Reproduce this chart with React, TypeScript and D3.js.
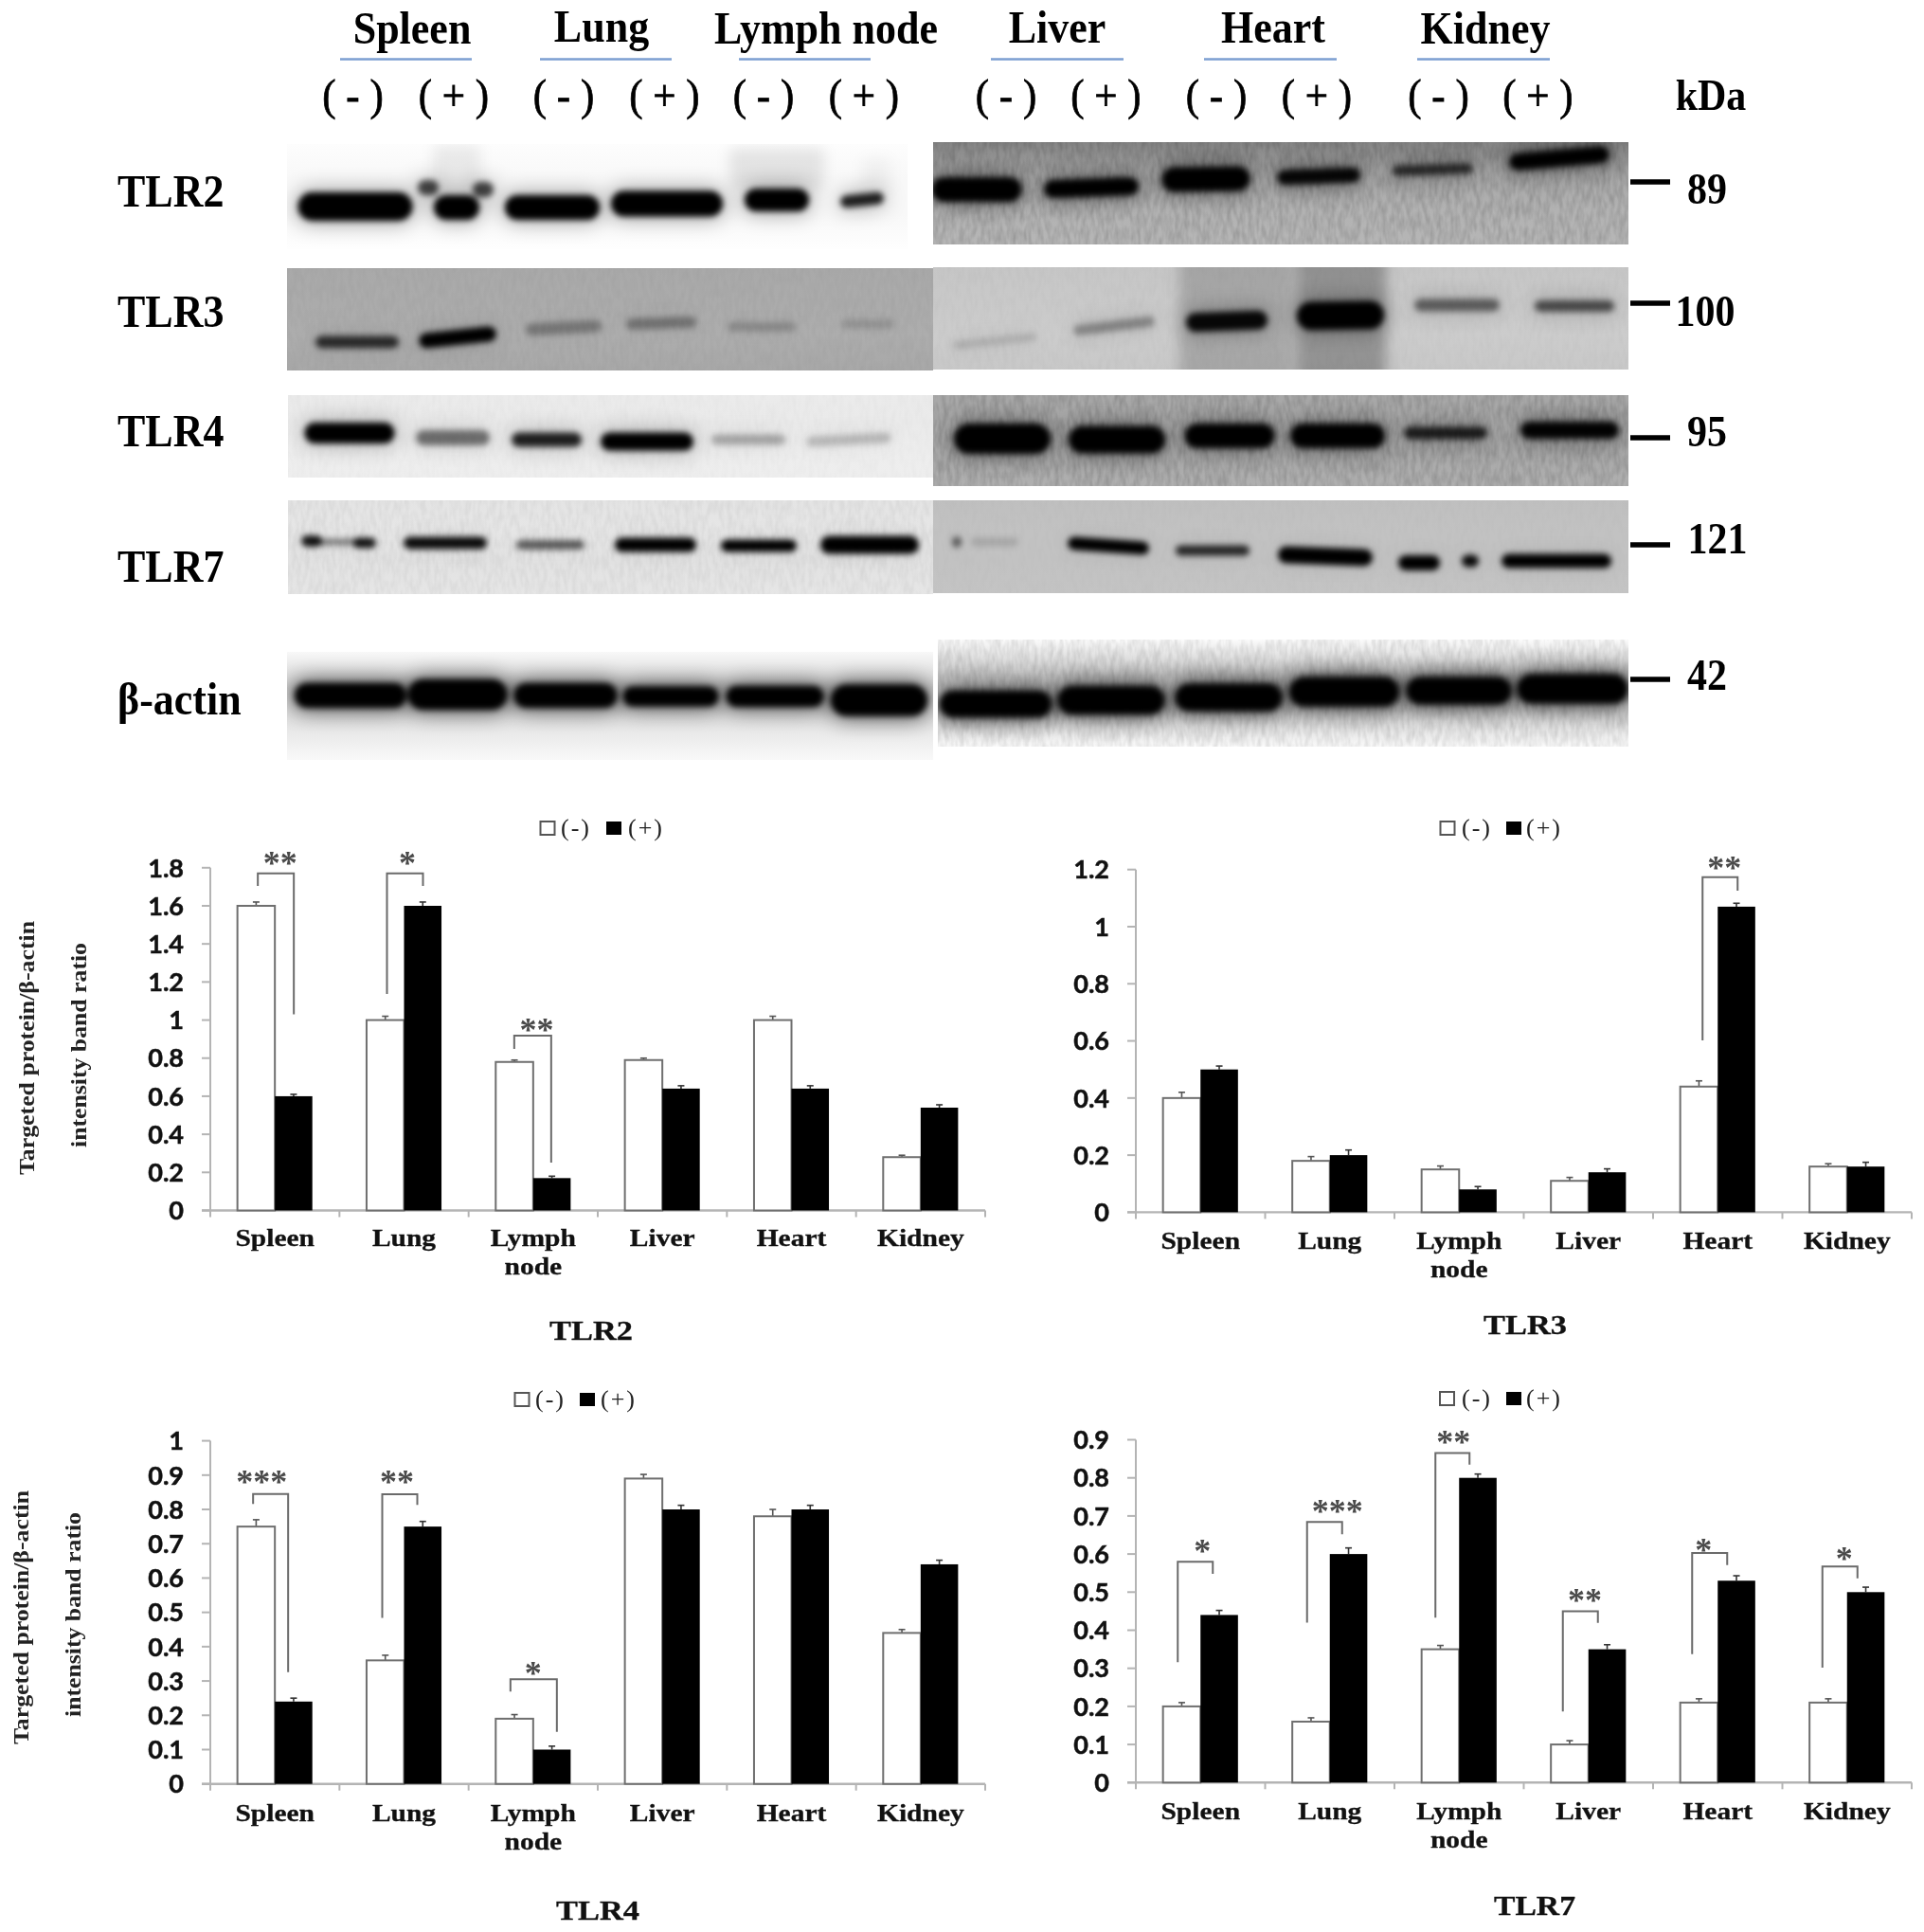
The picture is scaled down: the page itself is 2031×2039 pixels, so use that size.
import React from "react";
import * as d3 from "d3";

// ---------- bar chart data ----------
const categories = ["Spleen", "Lung", "Lymph node", "Liver", "Heart", "Kidney"];

const tlr2Neg = [1.6, 1, 0.78, 0.79, 1, 0.28];
const tlr2Pos = [0.6, 1.6, 0.17, 0.64, 0.64, 0.54];
const tlr2NegErr = [0.02, 0.02, 0.01, 0.01, 0.02, 0.01];
const tlr2PosErr = [0.01, 0.02, 0.01, 0.015, 0.015, 0.015];
const tlr2Ticks = [0, 0.2, 0.4, 0.6, 0.8, 1, 1.2, 1.4, 1.6, 1.8];

const tlr3Neg = [0.4, 0.18, 0.15, 0.11, 0.44, 0.16];
const tlr3Pos = [0.5, 0.2, 0.08, 0.14, 1.07, 0.16];
const tlr3NegErr = [0.02, 0.015, 0.012, 0.012, 0.02, 0.01];
const tlr3PosErr = [0.012, 0.018, 0.01, 0.012, 0.012, 0.015];
const tlr3Ticks = [0, 0.2, 0.4, 0.6, 0.8, 1, 1.2];

const tlr4Neg = [0.75, 0.36, 0.19, 0.89, 0.78, 0.44];
const tlr4Pos = [0.24, 0.75, 0.1, 0.8, 0.8, 0.64];
const tlr4NegErr = [0.02, 0.015, 0.012, 0.012, 0.02, 0.01];
const tlr4PosErr = [0.01, 0.015, 0.01, 0.012, 0.012, 0.012];
const tlr4Ticks = [0, 0.1, 0.2, 0.3, 0.4, 0.5, 0.6, 0.7, 0.8, 0.9, 1];

const tlr7Neg = [0.2, 0.16, 0.35, 0.1, 0.21, 0.21];
const tlr7Pos = [0.44, 0.6, 0.8, 0.35, 0.53, 0.5];
const tlr7NegErr = [0.01, 0.01, 0.01, 0.01, 0.01, 0.01];
const tlr7PosErr = [0.012, 0.016, 0.01, 0.012, 0.013, 0.013];
const tlr7Ticks = [0, 0.1, 0.2, 0.3, 0.4, 0.5, 0.6, 0.7, 0.8, 0.9];

// significance brackets: category, bracket top, left leg end, right leg end, stars, star level
const tlr2Sig: [string, number, number, number, string, number][] = [
  ["Spleen", 1.77, 1.705, 1.03, "**", 1.851],
  ["Lung", 1.77, 1.137, 1.705, "*", 1.851],
  ["Lymph node", 0.918, 0.848, 0.251, "**", 0.975],
];
const tlr3Sig: [string, number, number, number, string, number][] = [
  ["Heart", 1.173, 0.602, 1.126, "**", 1.222],
];
const tlr4Sig: [string, number, number, number, string, number][] = [
  ["Spleen", 0.845, 0.816, 0.326, "***", 0.896],
  ["Lung", 0.844, 0.484, 0.813, "**", 0.896],
  ["Lymph node", 0.305, 0.269, 0.152, "*", 0.336],
];
const tlr7Sig: [string, number, number, number, string, number][] = [
  ["Spleen", 0.58, 0.316, 0.548, "*", 0.62],
  ["Lung", 0.684, 0.42, 0.652, "***", 0.725],
  ["Lymph node", 0.865, 0.433, 0.835, "**", 0.907],
  ["Liver", 0.45, 0.187, 0.419, "**", 0.492],
  ["Heart", 0.603, 0.337, 0.571, "*", 0.624],
  ["Kidney", 0.567, 0.302, 0.536, "*", 0.6],
];

// ---------- blot labels ----------
const tissueLabels = ["Spleen", "Lung", "Lymph node", "Liver", "Heart", "Kidney"];
const rowLabels = ["TLR2", "TLR3", "TLR4", "TLR7", "β-actin"];
const kdaLabels = ["89", "100", "95", "121", "42"];

// ---------- blot bands: centre x, centre y, width, height, darkness, tilt ----------
type Band = [number, number, number, number, number, number?];
const tlr2Bands: Band[] = [
  [375, 218, 117, 26, 1], [482, 219, 44, 22, 1], [452, 198, 18, 12, 0.7], [510, 200, 18, 12, 0.7],
  [583, 219, 96, 22, 1], [704, 215, 114, 23, 1], [820, 211, 64, 20, 1], [910, 211, 42, 9, 0.85, -6],
  [1031, 200, 91, 22, 1], [1152, 198, 96, 15, 1, -2], [1273, 189, 89, 22, 1, -1], [1392, 186, 84, 12, 0.95, -2],
  [1512, 179, 81, 7, 0.7, -2], [1646, 167, 102, 14, 1, -5],
];
const tlr3Bands: Band[] = [
  [377, 361, 84, 9, 0.75], [483, 356, 78, 12, 1, -6], [595, 346, 76, 9, 0.3, -3], [698, 341, 70, 8, 0.33, -2],
  [804, 345, 68, 6, 0.2], [916, 342, 52, 6, 0.14], [1050, 360, 84, 5, 0.13, -6], [1176, 344, 82, 7, 0.32, -7],
  [1295, 339, 82, 16, 0.95, -2], [1415, 333, 88, 26, 1, -1], [1538, 322, 86, 9, 0.5], [1662, 323, 80, 8, 0.6],
];
const tlr4Bands: Band[] = [
  [369, 457, 91, 18, 1], [478, 462, 74, 12, 0.5], [577, 464, 70, 11, 0.85], [683, 466, 94, 15, 1],
  [790, 464, 74, 7, 0.28], [896, 464, 86, 7, 0.2, -3], [1058, 463, 98, 28, 1], [1179, 464, 98, 25, 1],
  [1298, 460, 91, 22, 1], [1412, 460, 96, 22, 1], [1526, 457, 84, 9, 0.8], [1657, 454, 100, 14, 0.98],
];
const tlr7Bands: Band[] = [
  [329, 571, 18, 8, 0.9], [385, 573, 20, 7, 0.9], [357, 572, 56, 3, 0.45],
  [470, 573, 84, 9, 0.95], [581, 575, 68, 6, 0.6], [692, 575, 82, 11, 1], [801, 576, 76, 9, 1], [918, 575, 100, 15, 1],
  [1010, 572, 6, 8, 0.55], [1050, 572, 46, 5, 0.14], [1170, 576, 82, 10, 1, 4], [1280, 581, 74, 7, 0.8],
  [1399, 587, 96, 14, 1, 2], [1498, 594, 40, 12, 1], [1552, 592, 14, 9, 0.95], [1643, 592, 112, 11, 1],
];
const actinBands: Band[] = [
  [370, 734, 114, 22, 1], [483, 733, 101, 28, 1], [597, 734, 105, 22, 1], [708, 735, 97, 17, 1], [818, 735, 99, 18, 1], [928, 739, 98, 29, 1],
  [1051, 743, 114, 24, 1], [1173, 739, 109, 26, 1], [1297, 736, 109, 25, 1], [1419, 730, 112, 27, 1], [1540, 729, 107, 25, 1], [1660, 727, 113, 27, 1],
];
// soft smears above the TLR2 left lanes and darker background zones behind the heart lanes in TLR3
const tlr2Smears: Band[] = [[482, 178, 50, 50, 0.07], [820, 178, 100, 44, 0.09], [925, 185, 30, 36, 0.04]];
const tlr3Zones: Band[] = [[1305, 336, 120, 150, 0.17], [1416, 336, 94, 150, 0.27]];

// ---------- blot panels: x0, y0, x1, y1, gradient ----------
type Panel = { key: string; box: number[]; stops: string[]; grain: number; bands: Band[]; halo: number; smears: Band[] };
const blotPanels: Panel[] = [
  { key: "t2l", box: [303, 152, 958, 263], stops: ["#fdfdfd", "#f8f8f8", "#f8f8f8", "#fefefe"], grain: 0, bands: tlr2Bands.slice(0, 8), halo: 0.34, smears: tlr2Smears },
  { key: "t2r", box: [985, 150, 1719, 258], stops: ["#848484", "#a6a6a6", "#b2b2b2", "#b6b6b6"], grain: 0.16, bands: tlr2Bands.slice(8), halo: 0.45, smears: [] },
  { key: "t3l", box: [303, 283, 985, 391], stops: ["#a9a9a9", "#ababab", "#adadad", "#a8a8a8"], grain: 0.03, bands: tlr3Bands.slice(0, 6), halo: 0.1, smears: [] },
  { key: "t3r", box: [985, 282, 1719, 390], stops: ["#c6c6c6", "#c9c9c9", "#cccccc", "#c8c8c8"], grain: 0.02, bands: tlr3Bands.slice(6), halo: 0.3, smears: tlr3Zones },
  { key: "t4l", box: [304, 417, 985, 504], stops: ["#ebebeb", "#eaeaea", "#ededed", "#eeeeee"], grain: 0.02, bands: tlr4Bands.slice(0, 6), halo: 0.25, smears: [] },
  { key: "t4r", box: [985, 417, 1719, 513], stops: ["#a8a8a8", "#a8a8a8", "#a8a8a8", "#b0b0b0"], grain: 0.16, bands: tlr4Bands.slice(6), halo: 0.4, smears: [] },
  { key: "t7l", box: [304, 528, 985, 627], stops: ["#e4e4e4", "#e6e6e6", "#e2e2e2", "#e6e6e6"], grain: 0.05, bands: tlr7Bands.slice(0, 8), halo: 0.06, smears: [] },
  { key: "t7r", box: [985, 528, 1719, 626], stops: ["#bfbfbf", "#c2c2c2", "#c2c2c2", "#c4c4c4"], grain: 0.01, bands: tlr7Bands.slice(8), halo: 0.05, smears: [] },
  { key: "al", box: [303, 688, 985, 802], stops: ["#f8f8f8", "#d2d2d2", "#e4e4e4", "#f9f9f9"], grain: 0, bands: actinBands.slice(0, 6), halo: 0.65, smears: [] },
  { key: "ar", box: [990, 675, 1719, 788], stops: ["#fbfbfb", "#c4c4c4", "#cacaca", "#fafafa"], grain: 0.12, bands: actinBands.slice(6), halo: 0.7, smears: [] },
];

const SERIF = "'Liberation Serif', 'Times New Roman', serif";
const TICKFONT = "Lato, 'Open Sans', sans-serif";

function Blots() {
  const x = d3.scaleIdentity();
  const y = d3.scaleIdentity();
  const heading = [
    { l: 435, u: [359, 498], b: 46 }, { l: 635, u: [570, 709], b: 44 }, { l: 872, u: [780, 919], b: 46 },
    { l: 1116, u: [1046, 1186], b: 45 }, { l: 1344, u: [1271, 1411], b: 45 }, { l: 1568, u: [1496, 1636], b: 46 },
  ];
  const signs = [372.5, 479, 595, 701.5, 806, 912, 1062, 1167.5, 1284, 1390, 1518.5, 1623.5];
  const rowY = [217.5, 345, 471, 614, 754];
  const kdaX = [1802, 1800, 1802, 1813, 1802];
  const kdaY = [215, 344, 471, 584, 728];
  const dashY = [192, 320, 462, 575, 717];
  const tall = (tx: number, ty: number) => `translate(${tx},${ty}) scale(1,1.1)`;
  return (
    <g>
      <defs>
        <filter id="soft" x="-20%" y="-60%" width="140%" height="220%"><feGaussianBlur stdDeviation="3.2" /></filter>
        <filter id="halo" x="-30%" y="-150%" width="160%" height="400%"><feGaussianBlur stdDeviation="11" /></filter>
        <filter id="zone" x="-30%" y="-30%" width="160%" height="160%"><feGaussianBlur stdDeviation="7" /></filter>
        <filter id="grain" x="0" y="0" width="100%" height="100%">
          <feTurbulence type="fractalNoise" baseFrequency="0.22 0.07" numOctaves={2} seed={7} />
          <feColorMatrix type="matrix" values="0 0 0 0 0  0 0 0 0 0  0 0 0 0 0  1.6 0 0 0 -0.5" />
        </filter>
        {blotPanels.map((p) => (
          <React.Fragment key={p.key}>
            <linearGradient id={`g-${p.key}`} x1="0" x2="0" y1="0" y2="1">
              {p.stops.map((c, i) => <stop key={i} offset={i / (p.stops.length - 1)} stopColor={c} />)}
            </linearGradient>
            <clipPath id={`c-${p.key}`}>
              <rect x={p.box[0]} y={p.box[1]} width={p.box[2] - p.box[0]} height={p.box[3] - p.box[1]} />
            </clipPath>
          </React.Fragment>
        ))}
      </defs>
      {blotPanels.map((p) => {
        const [x0, y0, x1, y1] = p.box;
        const bandRect = (b: Band, i: number, grow: number, round = true) => {
          const w = b[2] + grow;
          const h = b[3] + grow;
          const cx = x(b[0]);
          const cy = y(b[1]);
          return (
            <rect key={i} x={cx - w / 2} y={cy - h / 2} width={w} height={h} rx={round ? h / 2 : 4} fill="#000" opacity={b[4]}
              transform={b[5] ? `rotate(${b[5]} ${cx} ${cy})` : undefined} />
          );
        };
        return (
          <g key={p.key} clipPath={`url(#c-${p.key})`}>
            <rect x={x0} y={y0} width={x1 - x0} height={y1 - y0} fill={`url(#g-${p.key})`} />
            {p.grain > 0 && <rect x={x0} y={y0} width={x1 - x0} height={y1 - y0} filter="url(#grain)" opacity={p.grain} />}
            {p.smears.length > 0 && <g filter="url(#zone)">{p.smears.map((b, i) => bandRect(b, i, 0, false))}</g>}
            <g filter="url(#halo)" opacity={p.halo}>{p.bands.map((b, i) => bandRect(b, i, 10))}</g>
            <g filter="url(#soft)">{p.bands.map((b, i) => bandRect(b, i, 4))}</g>
          </g>
        );
      })}
      <rect x={985} y={675} width={5} height={127} fill="#fff" />

      {tissueLabels.map((t, i) => (
        <g key={t}>
          <text transform={tall(heading[i].l, heading[i].b)} textAnchor="middle" fontFamily={SERIF} fontWeight="bold" fontSize={44} fill="#000">{t}</text>
          <line x1={heading[i].u[0]} x2={heading[i].u[1]} y1={62.5} y2={62.5} stroke="#7c9fd2" strokeWidth={2.4} />
        </g>
      ))}
      {signs.map((cx, i) => (
        <text key={i} transform={tall(cx, 116)} textAnchor="middle" fontFamily={SERIF} fontSize={43} fill="#000" stroke="#000" strokeWidth={0.7}>
          {i % 2 === 0 ? "( - )" : "( + )"}
        </text>
      ))}
      <text transform={tall(1806, 116)} textAnchor="middle" fontFamily={SERIF} fontWeight="bold" fontSize={42} fill="#000">kDa</text>
      {rowLabels.map((t, i) => (
        <text key={t} transform={tall(124, rowY[i])} fontFamily={SERIF} fontWeight="bold" fontSize={44} fill="#000">{t}</text>
      ))}
      {kdaLabels.map((t, i) => (
        <g key={t}>
          <line x1={1721} x2={1763} y1={dashY[i]} y2={dashY[i]} stroke="#000" strokeWidth={5.5} />
          <text transform={tall(kdaX[i], kdaY[i])} textAnchor="middle" fontFamily={SERIF} fontWeight="bold" fontSize={42} fill="#000">{t}</text>
        </g>
      ))}
    </g>
  );
}

type BarProps = {
  neg: number[]; pos: number[]; negErr: number[]; posErr: number[]; ticks: number[];
  sig: [string, number, number, number, string, number][];
  sigDx: number[][];
  x0: number; x1: number; yTop: number; yBase: number;
  labelY: number; title: string; titleBox: number[];
  legend: number[]; legendY: number;
  yTitle?: { a: number; b: number; cy: number };
};

function BarChart(p: BarProps) {
  const top = p.ticks[p.ticks.length - 1];
  const y = d3.scaleLinear().domain([0, top]).range([p.yBase, p.yTop]);
  const band = d3.scaleBand().domain(categories).range([p.x0, p.x1]).paddingInner(0.42).paddingOuter(0.21);
  const bw = band.bandwidth() / 2;
  const step = band.step();
  const axisColor = "#b4b4b4";
  const barStroke = "#6f6f6f";
  const bracket = "#6a6a6a";
  const lx = p.legend;
  return (
    <g>
      {/* axes */}
      <line x1={p.x0} x2={p.x0} y1={p.yTop} y2={p.yBase} stroke={axisColor} strokeWidth={2} />
      <line x1={p.x0 - 9} x2={p.x1} y1={p.yBase} y2={p.yBase} stroke={axisColor} strokeWidth={2.4} />
      {p.ticks.map((t) => (
        <g key={t}>
          <line x1={p.x0 - 9} x2={p.x0} y1={y(t)} y2={y(t)} stroke={axisColor} strokeWidth={2} />
          <text x={p.x0 - 28} y={y(t)} dy="0.36em" textAnchor="end" fontFamily={TICKFONT} fontWeight="bold" fontSize={27} fill="#111" stroke="#111" strokeWidth={0.5}>{String(t)}</text>
        </g>
      ))}
      {d3.range(7).map((i) => {
        const tx = p.x0 + (i * (p.x1 - p.x0)) / 6;
        return <line key={i} x1={tx} x2={tx} y1={p.yBase} y2={p.yBase + 7} stroke={axisColor} strokeWidth={2} />;
      })}
      {/* bars */}
      {categories.map((c, i) => {
        const bx = band(c) as number;
        const cxN = bx + bw / 2;
        const cxP = bx + bw + bw / 2;
        const words = c.split(" ");
        return (
          <g key={c}>
            <line x1={cxN} x2={cxN} y1={y(p.neg[i])} y2={y(p.neg[i] + p.negErr[i])} stroke="#555" strokeWidth={1.6} />
            <line x1={cxN - 3.5} x2={cxN + 3.5} y1={y(p.neg[i] + p.negErr[i])} y2={y(p.neg[i] + p.negErr[i])} stroke="#555" strokeWidth={1.6} />
            <line x1={cxP} x2={cxP} y1={y(p.pos[i])} y2={y(p.pos[i] + p.posErr[i])} stroke="#333" strokeWidth={1.6} />
            <line x1={cxP - 3.5} x2={cxP + 3.5} y1={y(p.pos[i] + p.posErr[i])} y2={y(p.pos[i] + p.posErr[i])} stroke="#333" strokeWidth={1.6} />
            <rect x={bx} y={y(p.neg[i])} width={bw} height={p.yBase - y(p.neg[i])} fill="#fff" stroke={barStroke} strokeWidth={2} />
            <rect x={bx + bw} y={y(p.pos[i])} width={bw} height={p.yBase - y(p.pos[i])} fill="#000" />
            {words.map((w, k) => (
              <text key={w} transform={`translate(${bx + step * 0.29},${p.labelY + k * 30}) scale(1.18,1)`} textAnchor="middle" fontFamily={SERIF} fontWeight="bold" fontSize={25} fill="#111" stroke="#111" strokeWidth={0.3}>{w}</text>
            ))}
          </g>
        );
      })}
      {/* significance */}
      {p.sig.map((s, i) => {
        const cx = (band(s[0]) as number) + bw;
        const [dl, dr, ds] = p.sigDx[i];
        const path = d3.path();
        path.moveTo(cx + dl, y(s[2]));
        path.lineTo(cx + dl, y(s[1]));
        path.lineTo(cx + dr, y(s[1]));
        path.lineTo(cx + dr, y(s[3]));
        return (
          <g key={s[0]}>
            <path d={path.toString()} fill="none" stroke={bracket} strokeWidth={2} />
            <text x={cx + ds} y={y(s[5])} dy="0.48em" textAnchor="middle" fontFamily={SERIF} fontWeight="bold" fontSize={36} fill="#4a4a4a">{s[4]}</text>
          </g>
        );
      })}
      {/* legend */}
      <rect x={lx[0]} y={p.legendY - 7} width={lx[1]} height={14} fill="#fff" stroke="#555" strokeWidth={2} />
      <text x={lx[2]} y={p.legendY + 8} fontFamily={SERIF} fontSize={26} letterSpacing={2} fill="#222">(-)</text>
      <rect x={lx[3]} y={p.legendY - 7} width={lx[1] + 1} height={14} fill="#000" />
      <text x={lx[4]} y={p.legendY + 8} fontFamily={SERIF} fontSize={26} letterSpacing={2} fill="#222">(+)</text>
      {/* title */}
      <text x={p.titleBox[0]} y={p.titleBox[1]} textLength={p.titleBox[2]} lengthAdjust="spacingAndGlyphs" fontFamily={SERIF} fontWeight="bold" fontSize={29} fill="#111" stroke="#111" strokeWidth={0.3}>{p.title}</text>
      {/* y title */}
      {p.yTitle && (
        <g fontFamily={SERIF} fontWeight="bold" fontSize={23} fill="#222" textAnchor="middle">
          <text transform={`translate(${p.yTitle.a},${p.yTitle.cy}) rotate(-90)`} textLength={268} lengthAdjust="spacingAndGlyphs">Targeted protein/β-actin</text>
          <text transform={`translate(${p.yTitle.b},${p.yTitle.cy - 3}) rotate(-90)`} textLength={216} lengthAdjust="spacingAndGlyphs">intensity band ratio</text>
        </g>
      )}
    </g>
  );
}

export default function App() {
  return (
    <svg width={2031} height={2039} viewBox="0 0 2031 2039" style={{ position: "absolute", left: 0, top: 0, background: "#fff" }}>
      <g style={{ filter: "blur(0.6px)" }}>
        <Blots />
        <BarChart neg={tlr2Neg} pos={tlr2Pos} negErr={tlr2NegErr} posErr={tlr2PosErr} ticks={tlr2Ticks} sig={tlr2Sig}
          sigDx={[[-18, 20, 5.5], [-18, 20, 3.4], [-20, 19, 3.7]]}
          x0={222} x1={1040} yTop={915.8} yBase={1277.5} labelY={1315} title="TLR2" titleBox={[580, 1414, 88]}
          legend={[570.5, 15, 592, 640, 663]} legendY={874} yTitle={{ a: 36, b: 91, cy: 1106 }} />
        <BarChart neg={tlr3Neg} pos={tlr3Pos} negErr={tlr3NegErr} posErr={tlr3PosErr} ticks={tlr3Ticks} sig={tlr3Sig}
          sigDx={[[-16, 21, 7]]}
          x0={1199} x1={2018} yTop={917.7} yBase={1279.4} labelY={1317.5} title="TLR3" titleBox={[1566, 1408, 88]}
          legend={[1520.5, 15, 1543, 1590, 1611]} legendY={874} />
        <BarChart neg={tlr4Neg} pos={tlr4Pos} negErr={tlr4NegErr} posErr={tlr4PosErr} ticks={tlr4Ticks} sig={tlr4Sig}
          sigDx={[[-23, 14, -14], [-23, 14, -7.6], [-24, 25, 0]]}
          x0={222} x1={1040} yTop={1520.6} yBase={1882.7} labelY={1921.5} title="TLR4" titleBox={[587, 2026, 88]}
          legend={[543.5, 15, 565, 612, 634]} legendY={1477} yTitle={{ a: 30, b: 85, cy: 1707 }} />
        <BarChart neg={tlr7Neg} pos={tlr7Pos} negErr={tlr7NegErr} posErr={tlr7PosErr} ticks={tlr7Ticks} sig={tlr7Sig}
          sigDx={[[-24, 13, 2], [-24, 13, 8], [-25, 11, -6], [-27, 10, -3.7], [-27, 10, -15], [-26, 11, -3]]}
          x0={1199} x1={2018} yTop={1519.5} yBase={1881.3} labelY={1919.6} title="TLR7" titleBox={[1577, 2021, 86]}
          legend={[1520, 15, 1543, 1590, 1611]} legendY={1476} />
      </g>
    </svg>
  );
}
